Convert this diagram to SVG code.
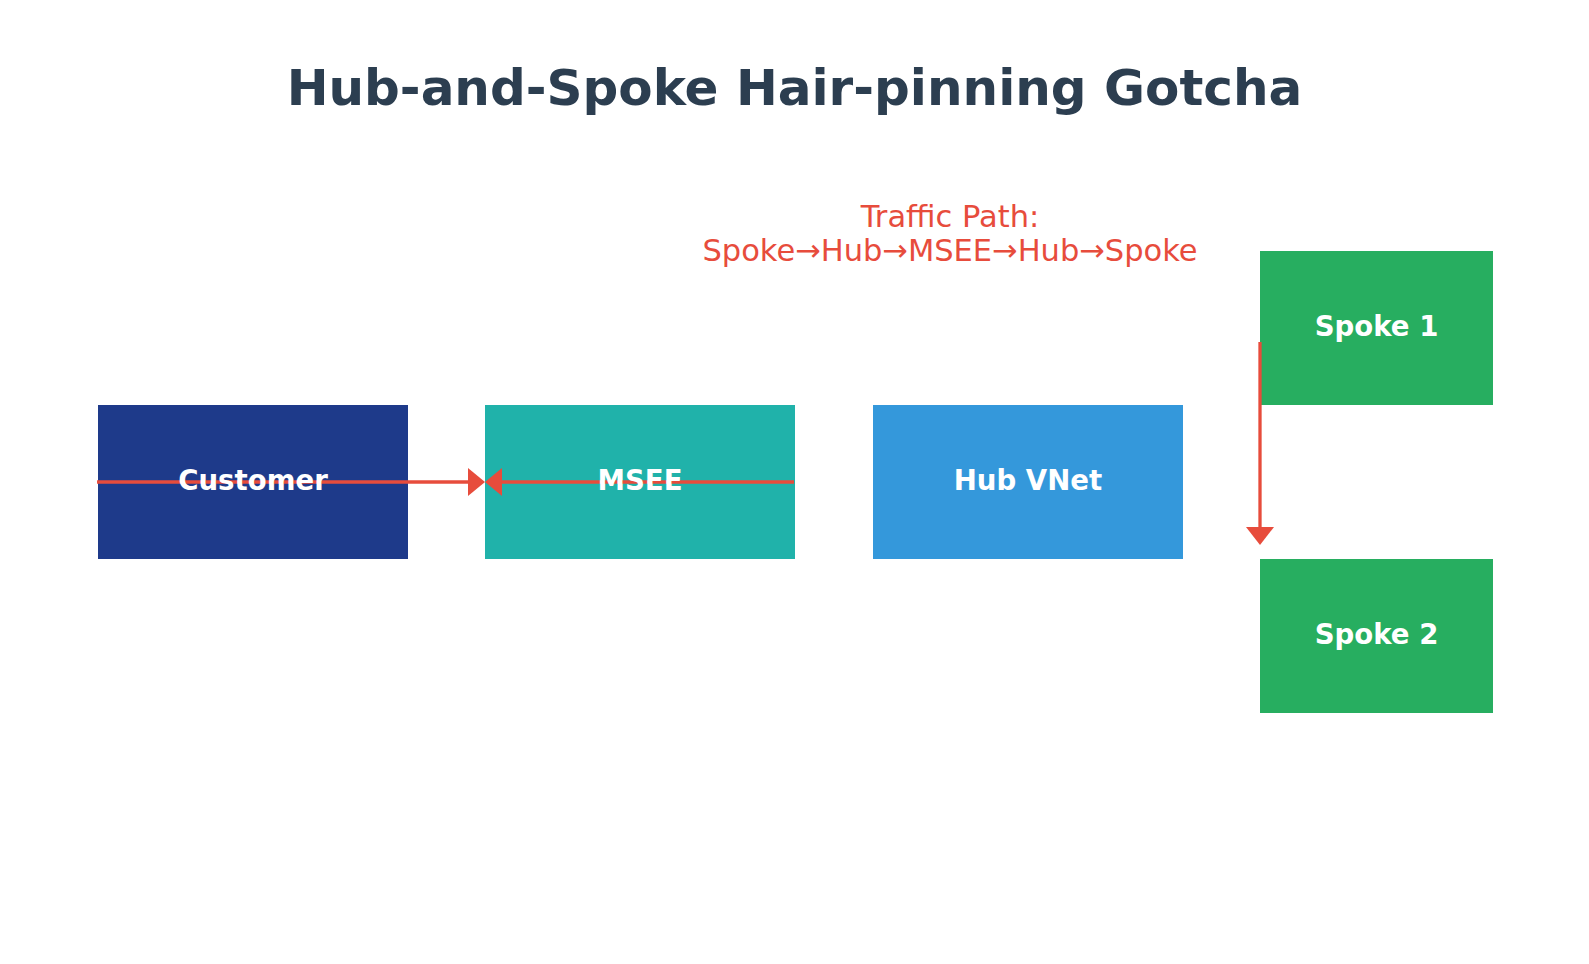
<svg xmlns="http://www.w3.org/2000/svg" width="1589" height="964" viewBox="0 0 1589 964">
<style>
.title{font-family:"DejaVu Sans",sans-serif;font-weight:bold;font-size:50px;fill:#2C3E50;text-anchor:middle}
.lbl{font-family:"DejaVu Sans",sans-serif;font-weight:bold;font-size:27.6px;fill:#FFFFFF;text-anchor:middle}
.note{font-family:"DejaVu Sans",sans-serif;font-size:30.5px;fill:#E74C3C;text-anchor:middle}
.conn{stroke:#E74C3C;stroke-width:3.3;fill:none}
.head{fill:#E74C3C}
</style>
<rect width="1589" height="964" fill="#FFFFFF"/>
<text class="title" x="794.5" y="105">Hub-and-Spoke Hair-pinning Gotcha</text>
<g id="customer"><rect x="98" y="405" width="310" height="154" fill="#1E3A8A"/></g>
<g id="msee"><rect x="485" y="405" width="310" height="154" fill="#20B2AA"/></g>
<g id="hub"><rect x="873" y="405" width="310" height="154" fill="#3498DB"/></g>
<g id="spoke1"><rect x="1260" y="251" width="233" height="154" fill="#27AE60"/></g>
<g id="spoke2"><rect x="1260" y="559" width="233" height="154" fill="#27AE60"/></g>
<g id="connectors">
<line class="conn" x1="97" y1="482" x2="470" y2="482"/>
<polygon class="head" points="468,468 485,482 468,496"/>
<line class="conn" x1="794" y1="482" x2="500" y2="482"/>
<polygon class="head" points="502,468 485,482 502,496"/>
<line class="conn" x1="1260" y1="342" x2="1260" y2="530"/>
<polygon class="head" points="1246,527 1274,527 1260,545"/>
</g>
<g id="labels">
<text class="lbl" x="253" y="490">Customer</text>
<text class="lbl" x="640" y="490">MSEE</text>
<text class="lbl" x="1028" y="490">Hub VNet</text>
<text class="lbl" x="1376.5" y="336">Spoke 1</text>
<text class="lbl" x="1376.5" y="644">Spoke 2</text>
</g>
<g id="note">
<text class="note" x="950" y="227">Traffic Path:</text>
<text class="note" x="950" y="261">Spoke→Hub→MSEE→Hub→Spoke</text>
</g>
</svg>
